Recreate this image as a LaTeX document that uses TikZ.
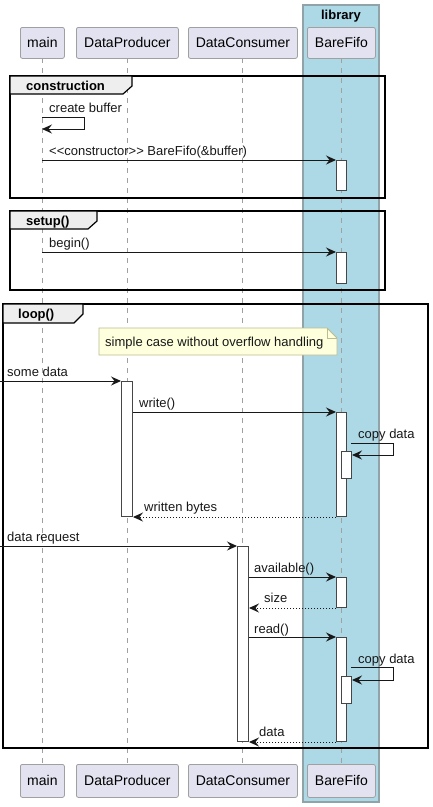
\documentclass[tikz,border=0pt]{standalone}
\usepackage{fontspec}
\setmainfont{Liberation Sans}
\usetikzlibrary{arrows.meta}
\definecolor{partfill}{HTML}{E2E2F0}
\definecolor{partdraw}{HTML}{A0A0A0}
\definecolor{libfill}{HTML}{ADD8E6}
\definecolor{libdraw}{HTML}{8FA3A8}
\definecolor{inkc}{HTML}{181818}
\definecolor{tabfill}{HTML}{EEEEEE}
\definecolor{notefill}{HTML}{FEFFDD}
\definecolor{notedraw}{HTML}{BCBC8F}
\begin{document}
\begin{tikzpicture}[x=1pt,y=-1pt,
  part/.style={draw=partdraw,fill=partfill,rounded corners=2pt,line width=0.8pt,font=\fontsize{14}{16}\selectfont,inner sep=0pt,anchor=north west},
  lifeline/.style={draw=partdraw,dashed,dash pattern=on 5pt off 5pt,line width=1pt},
  actbox/.style={draw=inkc!80,fill=white,line width=1pt},
  msg/.style={draw=inkc,line width=1pt,-{Stealth[length=10pt,width=9pt,inset=3.5pt]}},
  ret/.style={msg,dotted},
  lbl/.style={font=\fontsize{13}{15}\selectfont,inner sep=0pt,anchor=base west,text=inkc},
  frm/.style={draw=black,line width=1.5pt},
  tab/.style={draw=black,line width=1.2pt,fill=tabfill},
  tabtxt/.style={font=\bfseries\fontsize{13}{15}\selectfont,inner sep=0pt,anchor=base west}
]
\useasboundingbox (0,0) rectangle (433,807);
% library box
\path[draw=libdraw,fill=libfill,line width=1.2pt] (303,5) rectangle (379,802);
\node[font=\bfseries\fontsize{13}{15}\selectfont,inner sep=0pt,anchor=base] (libt) at (341,19) {library};
% lifelines
\coordinate (mT) at (42,58);  \coordinate (mB) at (42,764);
\coordinate (pT) at (127,58); \coordinate (pB) at (127,764);
\coordinate (cT) at (242,58); \coordinate (cB) at (242,764);
\coordinate (fT) at (341,58); \coordinate (fB) at (341,764);
\draw[lifeline] (mT) -- (mB);
\draw[lifeline] (pT) -- (pB);
\draw[lifeline] (cT) -- (cB);
\draw[lifeline] (fT) -- (fB);
% participants top
\node[part,minimum width=44pt,minimum height=31pt] (pm) at (20,27) {main};
\node[part,minimum width=102pt,minimum height=31pt] (pp) at (76,27) {DataProducer};
\node[part,minimum width=109pt,minimum height=31pt] (pc) at (188,27) {DataConsumer};
\node[part,minimum width=68pt,minimum height=31pt] (pf) at (307,27) {BareFifo};
% participants bottom
\node[part,minimum width=44pt,minimum height=33pt] (bm) at (20,764) {main};
\node[part,minimum width=102pt,minimum height=33pt] (bp) at (76,764) {DataProducer};
\node[part,minimum width=109pt,minimum height=33pt] (bc) at (188,764) {DataConsumer};
\node[part,minimum width=68pt,minimum height=33pt] (bf) at (307,764) {BareFifo};

% ---- construction frame
\draw[frm] (10,76) rectangle (385,198);
\draw[tab] (10,76) -- (132,76) -- (132,86) -- (123,94) -- (10,94) -- cycle;
\node[tabtxt] (t1) at (26,90) {construction};
\node[lbl] (l1) at (49,112) {create buffer};
\coordinate (s1a) at (42,117);
\coordinate (s1b) at (84,117);
\coordinate (s1c) at (84,129);
\coordinate (s1d) at (42,129);
\draw[msg] (s1a) -- (s1b) -- (s1c) -- (s1d);
\node[actbox,minimum width=10pt,minimum height=30pt,inner sep=0pt,anchor=north west] (a1) at (336,160) {};
\coordinate (m2) at (42,160);
\node[lbl] (l2) at (49,155) {<\kern0pt<\kern0pt constructor>\kern0pt>\kern0pt{} BareFifo(\&buffer)};
\draw[msg] (m2) -- (a1.north west);

% ---- setup frame
\draw[frm] (10,211) rectangle (385,290);
\draw[tab] (10,211) -- (97,211) -- (97,221) -- (88,229) -- (10,229) -- cycle;
\node[tabtxt] (t2) at (26,225) {setup()};
\node[actbox,minimum width=10pt,minimum height=31pt,inner sep=0pt,anchor=north west] (a2) at (336,252) {};
\coordinate (m3) at (42,252);
\node[lbl] (l3) at (49,247) {begin()};
\draw[msg] (m3) -- (a2.north west);

% ---- loop frame
\draw[frm] (3,304) rectangle (428,748);
\draw[tab] (3,304) -- (83,304) -- (83,314) -- (74,323) -- (3,323) -- cycle;
\node[tabtxt] (t3) at (18,318) {loop()};
% note
\draw[draw=notedraw,fill=notefill,line width=0.8pt] (99,328) -- (327,328) -- (337,338) -- (337,355) -- (99,355) -- cycle;
\draw[draw=notedraw,line width=0.8pt] (327,328) -- (327,338) -- (337,338);
\node[lbl] (note) at (105,346) {simple case without overflow handling};

% some data
\coordinate (in1) at (0,381);
\node[actbox,minimum width=11pt,minimum height=135pt,inner sep=0pt,anchor=north west] (ap) at (121,381) {};
\node[lbl] (l4) at (7,376) {some data};
\draw[msg] (in1) -- (ap.north west);
% write
\node[actbox,minimum width=10pt,minimum height=104pt,inner sep=0pt,anchor=north west] (aw) at (336,412) {};
\node[lbl] (l5) at (139,407) {write()};
\draw[msg] (ap.east |- aw.north) -- (aw.north west);
% copy data 1
\node[actbox,minimum width=10pt,minimum height=27pt,inner sep=0pt,anchor=north west] (ac1) at (341,451) {};
\node[lbl] (l6) at (358,438) {copy data};
\coordinate (c1a) at (351,443);
\coordinate (c1b) at (393,443);
\coordinate (c1c) at (393,455);
\draw[msg] (c1a) -- (c1b) -- (c1c) -- (ac1.east |- c1c);
% written bytes
\node[lbl] (l7) at (144,511) {written bytes};
\draw[ret] (aw.south west) -- (ap.south east);

% data request
\coordinate (in2) at (0,546);
\node[actbox,minimum width=11pt,minimum height=195pt,inner sep=0pt,anchor=north west] (acn) at (237,546) {};
\node[lbl] (l8) at (7,541) {data request};
\draw[msg] (in2) -- (acn.north west);
% available
\node[actbox,minimum width=10pt,minimum height=30pt,inner sep=0pt,anchor=north west] (aa) at (336,577) {};
\node[lbl] (l9) at (254,572) {available()};
\draw[msg] (acn.east |- aa.north) -- (aa.north west);
\node[lbl] (l10) at (264,602) {size};
\draw[ret] (aa.south west) -- (acn.east |- aa.south);
% read
\node[actbox,minimum width=10pt,minimum height=104pt,inner sep=0pt,anchor=north west] (ar) at (336,637) {};
\node[lbl] (l11) at (254,633) {read()};
\draw[msg] (acn.east |- ar.north) -- (ar.north west);
% copy data 2
\node[actbox,minimum width=10pt,minimum height=27pt,inner sep=0pt,anchor=north west] (ac2) at (341,676) {};
\node[lbl] (l12) at (358,663) {copy data};
\coordinate (c2a) at (351,667);
\coordinate (c2b) at (393,667);
\coordinate (c2c) at (393,680);
\draw[msg] (c2a) -- (c2b) -- (c2c) -- (ac2.east |- c2c);
% data
\node[lbl] (l13) at (259,736) {data};
\draw[ret] (ar.south west) -- (acn.south east);
\end{tikzpicture}
\end{document}
